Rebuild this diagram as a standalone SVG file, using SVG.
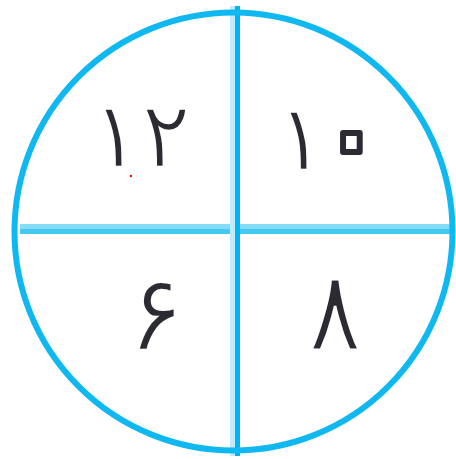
<svg xmlns="http://www.w3.org/2000/svg" width="456" height="459" viewBox="0 0 456 459">
<style>
.num{font-family:"DejaVu Sans","Noto Sans",sans-serif;fill:#2a2b33;text-anchor:middle;stroke:#fff;stroke-width:2.5}
.ring{fill:#fff;stroke:#2a2b33;stroke-width:6;stroke-linejoin:round}
</style>
<rect width="456" height="459" fill="#fff"/>
<g id="connectors">
<rect x="20" y="224" width="434" height="5" fill="#85dcf8"/>
<rect x="20" y="229" width="434" height="5" fill="#45c9f2"/>
<rect x="230" y="6" width="5" height="450" fill="#c0ebfb"/>
<rect x="235" y="6" width="5" height="450" fill="#00b4f0"/>
</g>
<g id="circle">
<circle cx="233.5" cy="231.5" r="219" fill="none" stroke="#0fb8f0" stroke-width="6"/>
</g>
<g id="q12"><text class="num" y="167" font-size="92"><tspan x="116">۱</tspan><tspan x="166">۲</tspan></text></g>
<g id="q10"><text class="num" y="170" font-size="92"><tspan x="301">۱</tspan><tspan class="ring" x="351.5" y="185.5" font-size="155">۰</tspan></text></g>
<g id="q6"><text class="num" x="156" y="350" font-size="107">۶</text></g>
<g id="q8"><text class="num" x="0" y="0" font-size="100" transform="translate(335,350) scale(1,1.12)">۸</text></g>
<circle cx="131" cy="176" r="1.2" fill="#f00"/>
</svg>
